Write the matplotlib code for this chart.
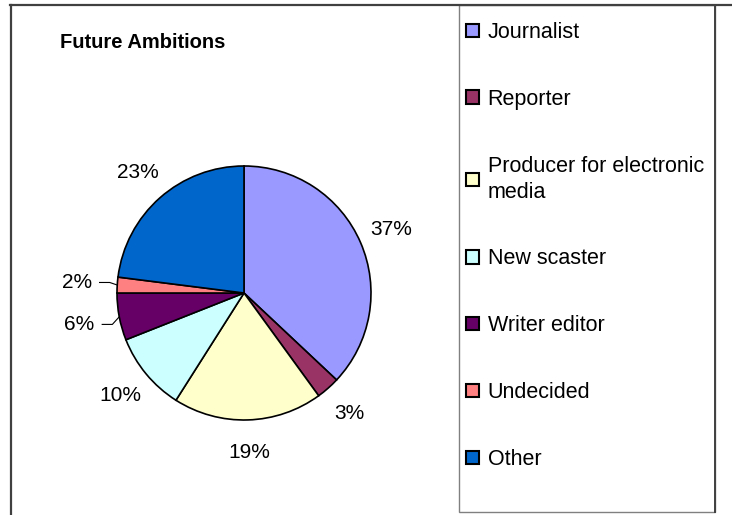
import numpy as np
import matplotlib
matplotlib.use("Agg")
import matplotlib.pyplot as plt
from matplotlib.lines import Line2D
from matplotlib.patches import Rectangle

plt.rcParams['font.family'] = ['Liberation Sans', 'DejaVu Sans']

# data
categories = ['Journalist', 'Reporter', 'Producer for electronic\nmedia',
              'New scaster', 'Writer editor', 'Undecided', 'Other']
shares = [37, 3, 19, 10, 6, 2, 23]
colors = ['#9999FF', '#993366', '#FFFFCC', '#CCFFFF', '#660066', '#FF8080', '#0066CC']
leader = [False, False, False, False, True, True, False]
title = 'Future Ambitions'

W, H = 732, 515
fig = plt.figure(figsize=(W / 100, H / 100), dpi=100)

# pie axes: centre (244, 293) px, radius 127 px
cx, cy, r = 244, 293, 127
ax = fig.add_axes([(cx - r) / W, (H - cy - r) / H, 2 * r / W, 2 * r / H])
wedges, _ = ax.pie(shares, colors=colors, startangle=90, counterclock=False,
                   radius=1, wedgeprops=dict(edgecolor='black', linewidth=1.2))
ax.set_xlim(-1, 1)
ax.set_ylim(-1, 1)
ax.axis('off')

# percentage labels outside, with leader lines on the thin left slices
for w, v, lead in zip(wedges, shares, leader):
    mid = np.deg2rad((w.theta1 + w.theta2) / 2)
    d = 1.32 if lead else 1.26
    lx, ly = d * np.cos(mid), d * np.sin(mid)
    ax.text(lx, ly, f'{v}%', ha='center', va='center', fontsize=15,
            color='black', clip_on=False)
    if lead:
        ex, ey = np.cos(mid), np.sin(mid)
        ax.plot([lx + 0.18, lx + 0.26, ex], [ly, ly, ey], color='black',
                linewidth=0.8, clip_on=False)

fig.text(60 / W, 1 - 43 / H, title, fontsize=14.5, fontweight='bold',
         ha='left', va='center')

# frame lines and legend box
dark = '#404040'
fig.add_artist(Line2D([10 / W, 1], [1 - 5 / H, 1 - 5 / H], color=dark, linewidth=1.6))
fig.add_artist(Line2D([11 / W, 11 / W], [0, 1 - 5 / H], color=dark, linewidth=1.6))
fig.add_artist(Line2D([715 / W, 715 / W], [1 - 512 / H, 1 - 5 / H], color=dark, linewidth=1.4))
fig.add_artist(Rectangle((459 / W, 1 - 512 / H), (715 - 459) / W, (512 - 5) / H,
                         transform=fig.transFigure, fill=False,
                         edgecolor='#808080', linewidth=1.0))

leg = fig.legend(wedges, categories, loc='upper left',
                 bbox_to_anchor=(466 / W, 1 - 22 / H), frameon=False,
                 fontsize=15.5, borderpad=0, borderaxespad=0,
                 handlelength=0.6, handleheight=0.6, handletextpad=0.4,
                 labelspacing=2.13)
for t in leg.get_texts():
    t.set_linespacing(1.3)
for h in leg.legend_handles:
    h.set_edgecolor('black')
    h.set_linewidth(1.5)

fig.savefig('out.png', dpi=100)
